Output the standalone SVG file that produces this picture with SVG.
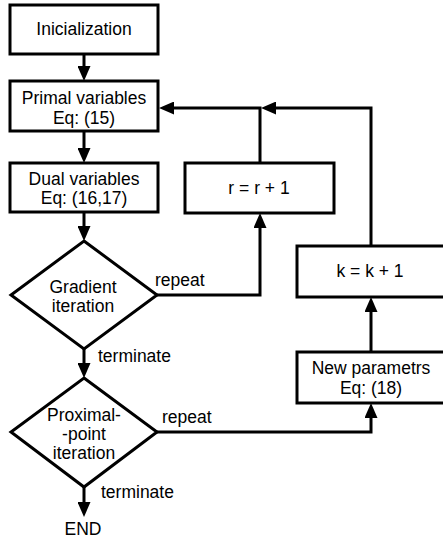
<svg xmlns="http://www.w3.org/2000/svg" width="443" height="543" viewBox="0 0 443 543">
<defs>
<marker id="ah" markerUnits="userSpaceOnUse" markerWidth="16" markerHeight="13" refX="1" refY="6.5" orient="auto">
<path d="M0,0 L15,6.5 L0,13 z" fill="#000"/>
</marker>
<style>
.box{fill:#fff;stroke:#000;stroke-width:3}
.t{font-family:"Liberation Sans",Arial,sans-serif;font-size:17.5px;fill:#000;text-anchor:middle}
.l{font-family:"Liberation Sans",Arial,sans-serif;font-size:17.5px;fill:#000}
.c{fill:none;stroke:#000;stroke-width:3}
.a{fill:none;stroke:#000;stroke-width:3;marker-end:url(#ah)}
</style>
</defs>
<rect width="443" height="543" fill="#fff"/>
<g id="connectors">
<path class="a" d="M84,54 V67"/>
<path class="a" d="M84,131 V149"/>
<path class="a" d="M84,212 V227"/>
<path class="a" d="M84,349 V364"/>
<path class="a" d="M84,487 V503"/>
<path class="a" d="M157,295 H260 V227"/>
<path class="a" d="M260,163 V108 H173"/>
<path class="a" d="M371,246 V108 H275"/>
<path class="a" d="M371,352 V311"/>
<path class="a" d="M157,432 H371 V417"/>
</g>
<g id="labels">
<text class="l" x="155" y="286">repeat</text>
<text class="l" x="98" y="362">terminate</text>
<text class="l" x="162" y="423">repeat</text>
<text class="l" x="101" y="498">terminate</text>
</g>
<g id="init">
<rect class="box" x="10" y="5" width="148" height="49"/>
<text class="t" x="84" y="35">Inicialization</text>
</g>
<g id="primal">
<rect class="box" x="10" y="81" width="148" height="50"/>
<text class="t" x="84" y="104">Primal variables</text>
<text class="t" x="84" y="124">Eq: (15)</text>
</g>
<g id="dual">
<rect class="box" x="10" y="163" width="148" height="49"/>
<text class="t" x="84" y="185">Dual variables</text>
<text class="t" x="84" y="204">Eq: (16,17)</text>
</g>
<g id="gradient">
<polygon class="box" points="84,241 157,295 84,349 11,295"/>
<text class="t" x="83" y="293">Gradient</text>
<text class="t" x="83" y="312">iteration</text>
</g>
<g id="proximal">
<polygon class="box" points="84,378 157,432 84,487 11,432"/>
<text class="t" x="84" y="421">Proximal-</text>
<text class="t" x="84" y="440">-point</text>
<text class="t" x="84" y="459">iteration</text>
</g>
<g id="rinc">
<rect class="box" x="185" y="163" width="149" height="50"/>
<text class="t" x="259" y="194">r = r + 1</text>
</g>
<g id="kinc">
<rect class="box" x="297" y="246" width="149" height="51"/>
<text class="t" x="370" y="277">k = k + 1</text>
</g>
<g id="newparams">
<rect class="box" x="297" y="352" width="149" height="51"/>
<text class="t" x="371" y="374">New parametrs</text>
<text class="t" x="371" y="394">Eq: (18)</text>
</g>
<g id="end">
<text class="t" x="83" y="535">END</text>
</g>
</svg>
